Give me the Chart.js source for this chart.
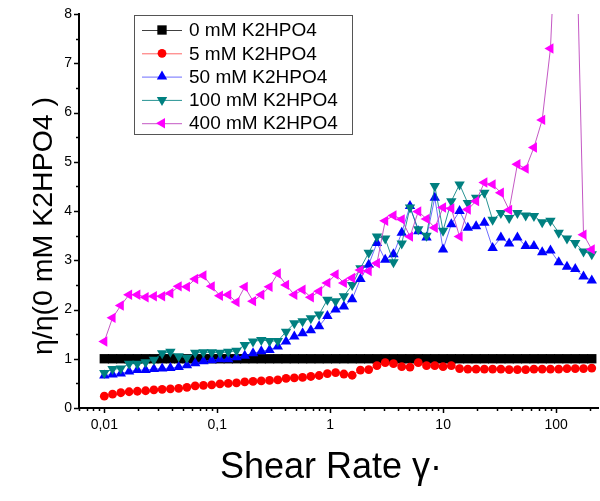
<!DOCTYPE html>
<html>
<head>
<meta charset="utf-8">
<script src="https://cdn.jsdelivr.net/npm/chart.js@4/dist/chart.umd.min.js"></script>
<style>
  html, body { margin: 0; padding: 0; background: #fff; }
  #wrap { width: 600px; height: 501px; }
</style>
</head>
<body>
<div id="wrap"><canvas id="viscChart" width="600" height="501"></canvas></div>
<script>
// shear rate (1/s), same grid for every sample
var shearRate = [
  0.0100, 0.01183, 0.01400, 0.01658, 0.01962, 0.02322, 0.02748, 0.03252, 0.03848, 0.04555,
  0.05390, 0.06379, 0.07549, 0.08934, 0.1057, 0.1251, 0.1481, 0.1752, 0.2074, 0.2454,
  0.2904, 0.3437, 0.4067, 0.4813, 0.5696, 0.6741, 0.7977, 0.9442, 1.117, 1.322,
  1.565, 1.852, 2.192, 2.594, 3.070, 3.633, 4.299, 5.088, 6.022, 7.127,
  8.433, 9.98, 11.81, 13.98, 16.54, 19.58, 23.17, 27.42, 32.45, 38.41,
  45.45, 53.79, 63.66, 75.34, 89.16, 105.5, 124.9, 147.8, 174.9, 207.0
];

// relative viscosity eta / eta(0 mM)
var k0 = [
  1, 1, 1, 1, 1, 1, 1, 1, 1, 1,
  1, 1, 1, 1, 1, 1, 1, 1, 1, 1,
  1, 1, 1, 1, 1, 1, 1, 1, 1, 1,
  1, 1, 1, 1, 1, 1, 1, 1, 1, 1,
  1, 1, 1, 1, 1, 1, 1, 1, 1, 1,
  1, 1, 1, 1, 1, 1, 1, 1, 1, 1
];
var k5 = [
  0.24, 0.28, 0.31, 0.33, 0.34, 0.35, 0.37, 0.38, 0.39, 0.40,
  0.42, 0.45, 0.46, 0.47, 0.49, 0.50, 0.51, 0.53, 0.54, 0.55,
  0.56, 0.57, 0.60, 0.61, 0.62, 0.64, 0.66, 0.70, 0.72, 0.69,
  0.665, 0.77, 0.78, 0.86, 0.92, 0.90, 0.84, 0.83, 0.92, 0.86,
  0.86, 0.84, 0.86, 0.80, 0.79, 0.79, 0.79, 0.79, 0.79, 0.78,
  0.78, 0.78, 0.79, 0.79, 0.79, 0.79, 0.80, 0.80, 0.80, 0.81
];
var k50 = [
  0.66, 0.68, 0.70, 0.74, 0.77, 0.77, 0.79, 0.80, 0.81, 0.83,
  0.87, 0.91, 0.95, 0.97, 0.99, 0.99, 1.03, 1.06, 1.11, 1.15,
  1.18, 1.25, 1.35, 1.45, 1.52, 1.58, 1.66, 1.87, 2.00, 2.06,
  2.21, 2.62, 2.91, 3.35, 3.01, 3.12, 3.56, 4.10, 3.59, 3.46,
  4.27, 3.22, 3.73, 4.00, 3.66, 3.69, 3.76, 3.25, 3.46, 3.34,
  3.46, 3.29, 3.29, 3.16, 3.20, 2.96, 2.87, 2.82, 2.67, 2.59
];
var k100 = [
  0.71, 0.79, 0.80, 0.90, 0.90, 0.93, 0.98, 1.11, 1.14, 1.05,
  1.02, 1.12, 1.13, 1.13, 1.12, 1.14, 1.16, 1.28, 1.35, 1.38,
  1.36, 1.36, 1.55, 1.72, 1.76, 1.82, 1.90, 2.20, 2.17, 2.27,
  2.50, 2.84, 3.15, 3.48, 3.44, 2.96, 3.34, 4.07, 3.63, 3.50,
  4.51, 3.60, 4.20, 4.54, 4.16, 4.27, 4.37, 3.82, 3.96, 3.86,
  3.96, 3.91, 3.90, 3.77, 3.80, 3.56, 3.44, 3.35, 3.18, 3.12
];
var k400 = [
  1.35, 1.83, 2.08, 2.30, 2.30, 2.25, 2.27, 2.27, 2.33, 2.47,
  2.46, 2.62, 2.69, 2.47, 2.28, 2.30, 2.15, 2.46, 2.17, 2.30,
  2.46, 2.73, 2.50, 2.30, 2.40, 2.25, 2.37, 2.54, 2.71, 2.54,
  2.64, 2.80, 2.78, 2.94, 3.80, 3.91, 3.83, 3.48, 3.99, 3.84,
  3.66, 4.07, 4.05, 3.48, 4.03, 4.20, 4.58, 4.54, 4.37, 4.02,
  4.95, 4.86, 5.29, 5.85, 7.30, 11.0, 20.0, 10.6, 3.52, 3.22
];

var seriesLabels = ["0 mM K2HPO4", "5 mM K2HPO4", "50 mM K2HPO4", "100 mM K2HPO4", "400 mM K2HPO4"];
var seriesValues = [k0, k5, k50, k100, k400];

// axis ticks
var xMajorTicks = [0.01, 0.1, 1, 10, 100];
var xTickLabels = ["0,01", "0,1", "1", "10", "100"];
var yMajorTicks = [0, 1, 2, 3, 4, 5, 6, 7, 8];

var FONT = '"Liberation Sans", Arial, Helvetica, sans-serif';
var X_TITLE = 'Shear Rate \u03b3\u00b7';
var Y_TITLE = '\u03b7/\u03b7(0 mM K2HPO4 )';

var styles = [
  { color: '#000000', line: 'rgba(0,0,0,0.75)',       pointStyle: 'rect',     radius: 6.6, rotation: 0 },
  { color: '#ff0000', line: 'rgba(255,0,0,0.6)',      pointStyle: 'circle',   radius: 4.4, rotation: 0 },
  { color: '#0000ff', line: 'rgba(60,60,255,0.75)',   pointStyle: 'triangle', radius: 6.0, rotation: 0 },
  { color: '#008080', line: 'rgba(0,128,128,0.85)',   pointStyle: 'triangle', radius: 6.0, rotation: 180 },
  { color: '#ff00ff', line: 'rgba(190,70,190,0.9)',   pointStyle: 'triangle', radius: 6.0, rotation: -90 }
];

var datasets = seriesValues.map(function (vals, k) {
  var s = styles[k];
  return {
    label: seriesLabels[k],
    data: shearRate.map(function (x, i) { return { x: x, y: vals[i] }; }),
    showLine: true,
    borderColor: s.line,
    borderWidth: 1,
    backgroundColor: s.color,
    pointStyle: s.pointStyle,
    pointRadius: s.radius,
    pointRotation: s.rotation,
    pointBackgroundColor: s.color,
    pointBorderColor: s.color,
    pointBorderWidth: 0,
    pointHoverRadius: s.radius,
    // later samples are painted on top
    order: seriesValues.length - k
  };
});

// minor ticks: 2..9 within every decade
var xMinorTicks = [];
[0.001, 0.01, 0.1, 1, 10, 100].forEach(function (d) {
  for (var m = 2; m <= 9; m++) xMinorTicks.push(+(d * m).toPrecision(3));
});
var yMinorTicks = [0.5, 1.5, 2.5, 3.5, 4.5, 5.5, 6.5, 7.5];

// short minor ticks + longer major ticks, drawn outward
var tickMarks = {
  id: 'tickMarks',
  afterDraw: function (chart) {
    var ctx = chart.ctx, xs = chart.scales.x, ys = chart.scales.y;
    var area = chart.chartArea;
    ctx.save();
    ctx.strokeStyle = '#000';
    ctx.lineWidth = 1.5;
    xs.ticks.forEach(function (t) {
      var px = Math.round(xs.getPixelForValue(t.value)) + 0.5;
      var len = t.major ? 5 : 3;
      ctx.beginPath();
      ctx.moveTo(px, area.bottom);
      ctx.lineTo(px, area.bottom + len);
      ctx.stroke();
    });
    ys.ticks.forEach(function (t) {
      var py = Math.round(ys.getPixelForValue(t.value)) + 0.5;
      var len = t.major ? 5 : 3;
      ctx.beginPath();
      ctx.moveTo(area.left, py);
      ctx.lineTo(area.left - len, py);
      ctx.stroke();
    });
    ctx.restore();
  }
};

// axis titles
var axisTitles = {
  id: 'axisTitles',
  afterDraw: function (chart) {
    var ctx = chart.ctx;
    ctx.save();
    ctx.fillStyle = '#000';
    ctx.textAlign = 'center';
    ctx.textBaseline = 'middle';
    ctx.font = '36px ' + FONT;
    ctx.fillText(X_TITLE, 331, 468);
    ctx.translate(44, 226);
    ctx.rotate(-Math.PI / 2);
    ctx.font = '28.5px ' + FONT;
    ctx.fillText(Y_TITLE, 0, 0);
    ctx.restore();
  }
};

// boxed legend in the upper left of the plot
var boxLegend = {
  id: 'boxLegend',
  afterDraw: function (chart) {
    var ctx = chart.ctx;
    var bx = 134.5, by = 15.5, bw = 218, bh = 119, rowH = 23.3;
    ctx.save();
    ctx.fillStyle = '#fff';
    ctx.fillRect(bx, by, bw, bh);
    ctx.strokeStyle = '#555';
    ctx.lineWidth = 1;
    ctx.strokeRect(bx, by, bw, bh);
    chart.data.datasets.forEach(function (ds, i) {
      var y = 30 + i * rowH;
      ctx.strokeStyle = ds.borderColor;
      ctx.lineWidth = 1;
      ctx.beginPath();
      ctx.moveTo(142, y + 0.5);
      ctx.lineTo(182, y + 0.5);
      ctx.stroke();
      ctx.fillStyle = ds.pointBackgroundColor;
      ctx.strokeStyle = ds.pointBorderColor;
      Chart.helpers.drawPoint(ctx, {
        pointStyle: ds.pointStyle,
        rotation: ds.pointRotation,
        radius: ds.pointRadius,
        borderWidth: 0
      }, 162, y);
      ctx.fillStyle = '#000';
      ctx.font = '19px ' + FONT;
      ctx.textBaseline = 'middle';
      ctx.textAlign = 'left';
      ctx.fillText(ds.label, 189, y + 1);
    });
    ctx.restore();
  }
};

new Chart(document.getElementById('viscChart'), {
  type: 'scatter',
  data: { datasets: datasets },
  plugins: [tickMarks, axisTitles, boxLegend],
  options: {
    responsive: false,
    animation: false,
    events: [],
    layout: { autoPadding: false, padding: { left: 0, right: 2, top: 14, bottom: 0 } },
    plugins: { legend: { display: false }, tooltip: { enabled: false } },
    scales: {
      x: {
        type: 'logarithmic',
        min: 0.00597,
        max: 235,
        afterBuildTicks: function (scale) {
          var all = xMinorTicks.concat(xMajorTicks).filter(function (v) {
            return v >= scale.min && v <= scale.max;
          }).sort(function (a, b) { return a - b; });
          scale.ticks = all.map(function (v) {
            return { value: v, major: xMajorTicks.indexOf(v) >= 0 };
          });
        },
        afterFit: function (scale) {
          scale.height = 93;
          scale.paddingLeft = 0;
          scale.paddingRight = 0;
        },
        ticks: {
          autoSkip: false,
          maxRotation: 0,
          minRotation: 0,
          padding: 0,
          color: '#000',
          font: { family: FONT, size: 14 },
          callback: function (v, i, ticks) {
            var k = xMajorTicks.indexOf(ticks[i].value);
            return k >= 0 ? xTickLabels[k] : '';
          }
        },
        grid: { drawOnChartArea: false, drawTicks: true, tickLength: 9, tickColor: 'rgba(0,0,0,0)' },
        border: { display: true, color: '#000', width: 2 }
      },
      y: {
        type: 'linear',
        min: 0,
        max: 8,
        afterBuildTicks: function (scale) {
          var all = yMinorTicks.concat(yMajorTicks).sort(function (a, b) { return a - b; });
          scale.ticks = all.map(function (v) {
            return { value: v, major: yMajorTicks.indexOf(v) >= 0 };
          });
        },
        afterFit: function (scale) { scale.width = 79; },
        ticks: {
          autoSkip: false,
          padding: 2,
          color: '#000',
          font: { family: FONT, size: 14 },
          callback: function (v, i, ticks) {
            return ticks[i].major ? String(ticks[i].value) : '';
          }
        },
        grid: { drawOnChartArea: false, drawTicks: true, tickLength: 5, tickColor: 'rgba(0,0,0,0)' },
        border: { display: true, color: '#000', width: 2 }
      }
    }
  }
});
</script>
</body>
</html>
